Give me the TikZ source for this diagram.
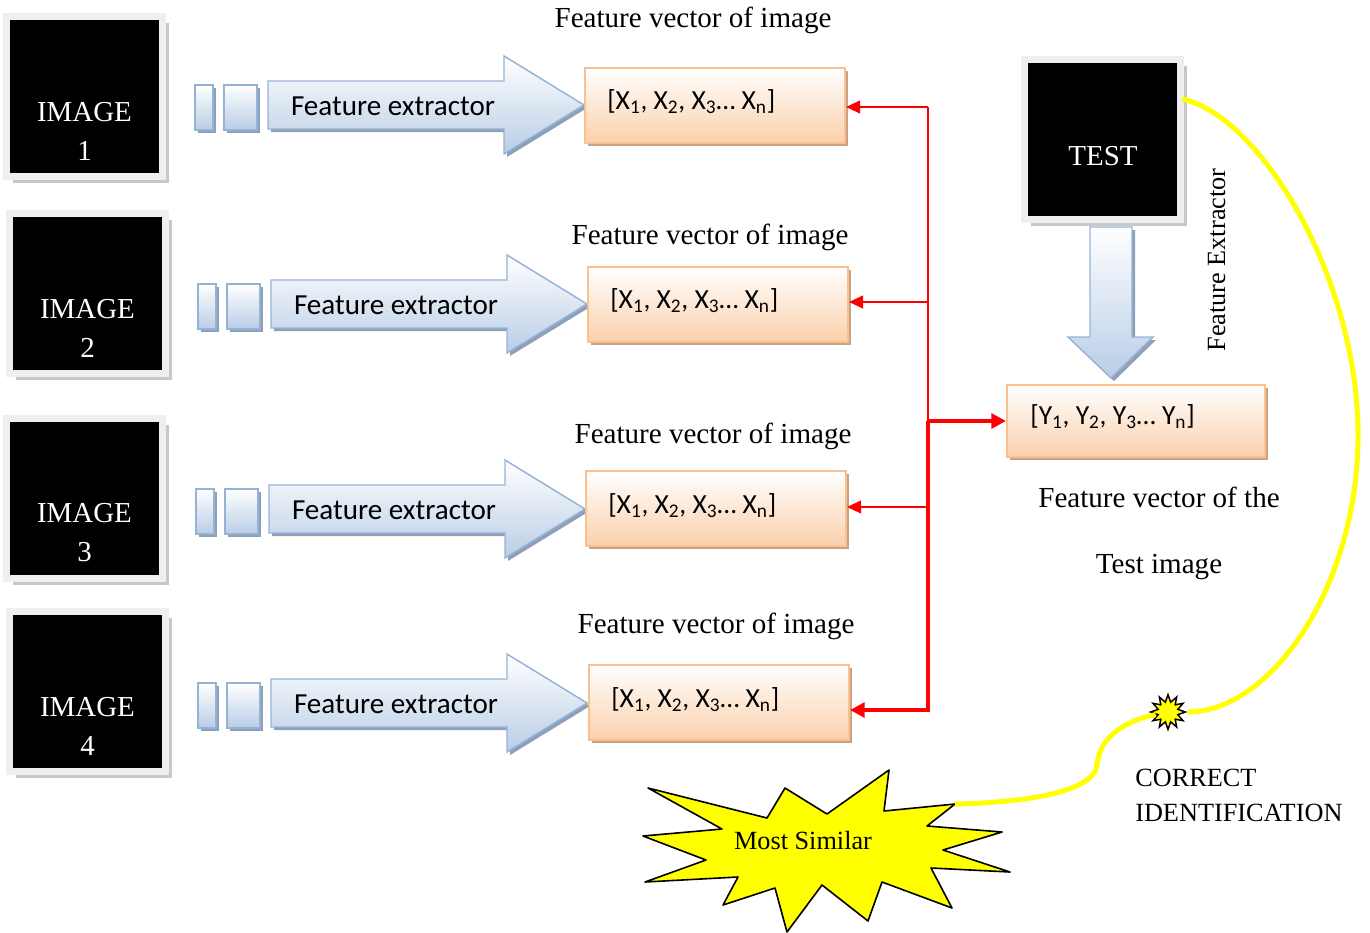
\documentclass[tikz,border=0pt]{standalone}
\usepackage{fontspec}
\setmainfont{Liberation Serif}
\newfontfamily\calfont{Carlito}
\usetikzlibrary{shadows,shapes.geometric,arrows.meta,calc}

\definecolor{framegray}{HTML}{EFEFEF}
\definecolor{imgshadow}{HTML}{C8C8C8}
\definecolor{blueline}{HTML}{95B3D7}
\definecolor{bluefill}{HTML}{B9CDE6}
\definecolor{blueshadow}{HTML}{8E9FB8}
\definecolor{peachfill}{HTML}{FBD0AC}
\definecolor{peachline}{HTML}{FAC090}
\definecolor{peachshadow}{HTML}{C8A283}
\definecolor{linkred}{HTML}{FF0000}
\definecolor{sunyellow}{HTML}{FFFF00}

\begin{document}
\begin{tikzpicture}[x=0.75pt,y=-0.75pt,
  imgbox/.style={fill=black, draw=framegray, line width=5.25pt,
    minimum width=117pt, minimum height=120pt, inner sep=0pt,
    general shadow={fill=imgshadow, shadow xshift=4.6pt, shadow yshift=-5pt}},
  imgtext/.style={text=white, font=\fontsize{21.7}{29.25}\selectfont, align=center, inner sep=0pt},
  vecbox/.style={draw=peachline, line width=1.5pt, top color=white, bottom color=peachfill,
    minimum width=195pt, minimum height=56.25pt, inner sep=0pt,
    general shadow={fill=peachshadow, shadow xshift=2.25pt, shadow yshift=-2.25pt}},
  vectext/.style={font=\calfont\fontsize{20.7}{24}\selectfont, anchor=base west, inner sep=0pt},
  lbl/.style={font=\fontsize{21.8}{26}\selectfont, anchor=base, inner sep=0pt},
  smalllbl/.style={font=\fontsize{19.7}{24}\selectfont, anchor=base, inner sep=0pt},
  fetext/.style={font=\calfont\fontsize{21.8}{26}\selectfont, anchor=base, inner sep=0pt},
  blockarrow/.style={draw=blueline, line width=1.1pt, top color=white, bottom color=bluefill,
    general shadow={fill=blueshadow, shadow xshift=2.25pt, shadow yshift=-2.25pt}},
  thinlink/.style={draw=linkred, line width=1.5pt, -{Triangle[length=10.5pt,width=9.5pt]}},
  thicklink/.style={draw=linkred, line width=3pt, -{Triangle[length=11pt,width=11pt]}},
  yellowline/.style={draw=sunyellow, line width=3.75pt}
]
\useasboundingbox (0,0) rectangle (1370,932);

% ---- database images ----
\node[imgbox] (img1) at (84.5,96.5) {};
\node[imgbox] (img2) at (87.5,293.5) {};
\node[imgbox] (img3) at (84.5,498) {};
\node[imgbox] (img4) at (87.5,691.5) {};
\node[imgtext] (img1t) at (84.5,131.5) {IMAGE\\1};
\node[imgtext] (img2t) at (87.5,328.5) {IMAGE\\2};
\node[imgtext] (img3t) at (84.5,533) {IMAGE\\3};
\node[imgtext] (img4t) at (87.5,726.5) {IMAGE\\4};

% ---- feature extractor block arrows ----
\foreach \ax/\ay/\k in {268/81/1, 271/280/2, 269/485/3, 271/679/4}{
  \begin{scope}[shift={(\ax,\ay)}]
    \path[blockarrow] (-73,4) rectangle (-55,49);
    \path[blockarrow] (-44,4) rectangle (-11,49);
    \path[blockarrow] (0,0) -- (236,0) -- (236,-25) -- (316,24) -- (236,73)
      -- (236,48) -- (0,48) -- cycle;
    \node[fetext] (fe\k) at (125,34) {Feature extractor};
  \end{scope}
}

% ---- feature vectors of the database images ----
\node[vecbox] (v1) at (715,105.5) {};
\node[vecbox] (v2) at (718,304.5) {};
\node[vecbox] (v3) at (716,508.5) {};
\node[vecbox] (v4) at (719,702.5) {};
\node[vectext] (v1t) at (607,109) {[X\textsubscript{1}, X\textsubscript{2}, X\textsubscript{3}… X\textsubscript{n}]};
\node[vectext] (v2t) at (610,308) {[X\textsubscript{1}, X\textsubscript{2}, X\textsubscript{3}… X\textsubscript{n}]};
\node[vectext] (v3t) at (608,513) {[X\textsubscript{1}, X\textsubscript{2}, X\textsubscript{3}… X\textsubscript{n}]};
\node[vectext] (v4t) at (611,707) {[X\textsubscript{1}, X\textsubscript{2}, X\textsubscript{3}… X\textsubscript{n}]};
\node[lbl] (l1) at (693,27) {Feature vector of image};
\node[lbl] (l2) at (710,244) {Feature vector of image};
\node[lbl] (l3) at (713,443) {Feature vector of image};
\node[lbl] (l4) at (716,633) {Feature vector of image};

% ---- test image and its feature vector ----
\node[imgbox] (test) at (1102.5,139.5) {};
\node[imgtext, anchor=base] (testt) at (1103,165) {TEST};
\path[blockarrow] (1090,227) -- (1132,227) -- (1132,337) -- (1153,337) -- (1111,378)
  -- (1068,337) -- (1090,337) -- cycle;
\node[smalllbl, rotate=90] (fxlbl) at (1225,260) {Feature Extractor};
\node[vecbox, minimum width=193.5pt, minimum height=54pt] (yv) at (1136,421) {};
\node[vectext] (yvt) at (1030,424) {[Y\textsubscript{1}, Y\textsubscript{2}, Y\textsubscript{3}… Y\textsubscript{n}]};
\node[lbl] (tl1) at (1159,507) {Feature vector of the};
\node[lbl] (tl2) at (1159,573) {Test image};

% ---- comparison links ----
\coordinate (j1) at (928,107);
\coordinate (j2) at (928,302);
\coordinate (jm) at (928,421);
\coordinate (j3) at (928,507);
\coordinate (j4) at (928,710);
\draw[linkred, line width=1.5pt] (j1) -- (jm);
\draw[thinlink] (j1) -- (v1.east |- j1);
\draw[thinlink] (j2) -- (v2.east |- j2);
\draw[thinlink] (j3) -- (v3.east |- j3);
\draw[thicklink] (jm) -- (j4) -- (v4.east |- j4);
\draw[thicklink] (jm) -- (yv.west);

% ---- result ----
\path[fill=sunyellow, draw=black, line width=1.2pt, line join=round]
  (648,788) -- (767,818) -- (785,788) -- (827,814) -- (889,770) -- (884,811)
  -- (955,804) -- (927,826) -- (1002,832) -- (943,850) -- (1010,872) -- (931,868)
  -- (952,908) -- (882,882) -- (868,921) -- (822,885) -- (787,932) -- (775,888)
  -- (723,905) -- (738,877) -- (645,882) -- (706,860) -- (643,836) -- (722,829) -- cycle;
\node[smalllbl] (sim) at (803,849) {Most Similar};
\coordinate (simtip) at (955,804);
\coordinate (ys) at (1182,99);
\node[star, star points=12, star point ratio=1.7, fill=sunyellow, draw=black,
  line width=1.1pt, minimum size=26pt, inner sep=0pt] (spark) at (1168,712) {};
\draw[yellowline] (ys) .. controls (1260,115) and (1360,280) .. (1358,440)
  .. controls (1356,590) and (1270,712) .. (spark);
\draw[yellowline] (spark) .. controls (1120,722) and (1099,740) .. (1097,765)
  .. controls (1094,795) and (1010,803) .. (simtip);
\node[smalllbl, anchor=base west] (ci1) at (1135,786) {CORRECT};
\node[smalllbl, anchor=base west] (ci2) at (1135,821) {IDENTIFICATION};
\end{tikzpicture}
\end{document}
